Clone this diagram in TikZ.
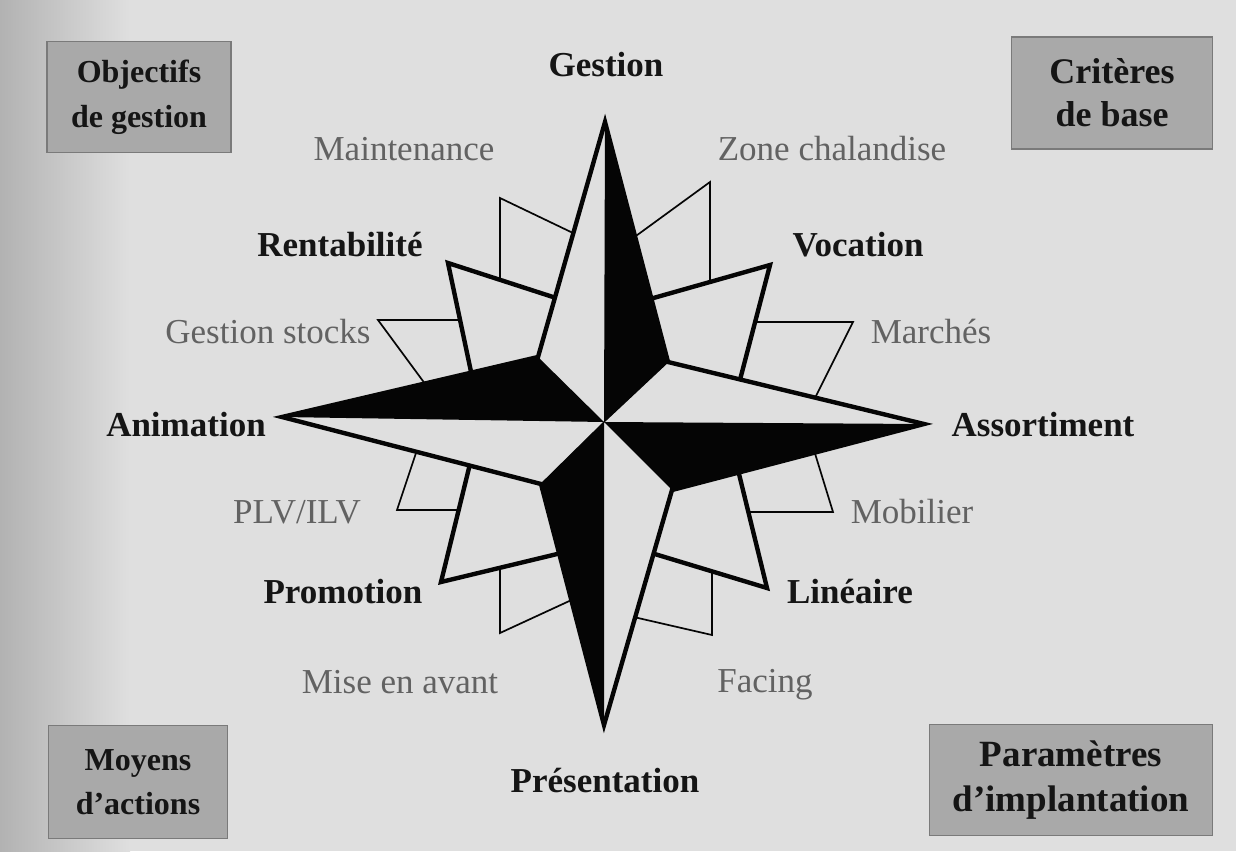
\documentclass[tikz,border=0pt]{standalone}
\usepackage{fontspec}
\setmainfont{Liberation Serif}
\usetikzlibrary{calc}
\definecolor{bg}{HTML}{DFDFDF}
\definecolor{shadeL}{HTML}{B2B2B2}
\definecolor{boxfill}{HTML}{A9A9A9}
\definecolor{boxline}{HTML}{7A7A7A}
\definecolor{darklabel}{HTML}{151515}
\definecolor{lightlabel}{HTML}{626262}
\definecolor{ink}{HTML}{050505}
\begin{document}
\begin{tikzpicture}[x=1pt,y=-1pt,
  boldlabel/.style={font=\fontsize{35}{42}\selectfont\bfseries, text=darklabel, inner sep=0pt, anchor=base},
  lightlabel/.style={font=\fontsize{35}{42}\selectfont, text=lightlabel, inner sep=0pt, anchor=base},
  catbox/.style={draw=boxline, fill=boxfill, line width=1.6pt, align=center, inner sep=0pt, text=darklabel},
  thickstroke/.style={draw=ink, line width=4.4pt, line join=miter, miter limit=12},
  thinstroke/.style={draw=ink, line width=1.7pt, line join=miter, miter limit=12},
  blackhalf/.style={fill=ink, draw=none},
]
\useasboundingbox (0,0) rectangle (1236,851);
% background
\fill[bg] (0,0) rectangle (1236,851);
\shade[left color=shadeL, right color=bg, draw=none] (0,0) rectangle (130,851);

% ---------------- main star geometry ----------------
\coordinate (C) at (604,422);
\coordinate (Nt) at (605,122);
\coordinate (Et) at (924,424);
\coordinate (St) at (604,725);
\coordinate (Wt) at (282,417);
\coordinate (NEc) at (668,362);
\coordinate (NWc) at (538,357);
\coordinate (SEc) at (672,490);
\coordinate (SWc) at (541,484);

% diagonal points: tip, crossing on one main arm, crossing on the other
\coordinate (NWt) at (448,263); \coordinate (NWp) at (553,297); \coordinate (NWq) at (470,367);
\coordinate (NEt) at (770,265); \coordinate (NEp) at (657,297); \coordinate (NEq) at (741,376);
\coordinate (SEt) at (767,588); \coordinate (SEp) at (740,478); \coordinate (SEq) at (658,555);
\coordinate (SWt) at (441,582); \coordinate (SWp) at (468,472); \coordinate (SWq) at (553,555);

% ---------------- tertiary points (thin) ----------------
\foreach \tx/\ty/\ax/\ay/\bx/\by in {
  500/198/500/273/573/233,
  710/182/710/277/640/233,
  853/322/757/322/818/392,
  833/512/747/512/817/460,
  712/635/712/575/638/618,
  500/633/500/573/565/603,
  397/510/457/510/413/462,
  378/320/455/320/420/377}{
  \filldraw[thinstroke, fill=bg] (\tx,\ty) -- ($(\tx,\ty)!1.3!(\ax,\ay)$) -- (C) -- ($(\tx,\ty)!1.3!(\bx,\by)$) -- cycle;
}

% ---------------- diagonal points (thick) ----------------
\foreach \d in {NW,NE,SE,SW}{
  \filldraw[thickstroke, fill=bg] (\d t) -- ($(\d t)!1.3!(\d p)$) -- (C) -- ($(\d t)!1.3!(\d q)$) -- cycle;
}

% ---------------- main star ----------------
\fill[bg] (Nt) -- (NEc) -- (Et) -- (SEc) -- (St) -- (SWc) -- (Wt) -- (NWc) -- cycle;
\fill[blackhalf] (C) -- (Nt) -- (NEc) -- cycle;
\fill[blackhalf] (C) -- (Et) -- (SEc) -- cycle;
\fill[blackhalf] (C) -- (St) -- (SWc) -- cycle;
\fill[blackhalf] (C) -- (Wt) -- (NWc) -- cycle;
\draw[thickstroke] (Nt) -- (NEc) -- (Et) -- (SEc) -- (St) -- (SWc) -- (Wt) -- (NWc) -- cycle;
\draw[draw=ink, line width=1.2pt] (C) -- (NEc) (C) -- (SWc);

% ---------------- labels ----------------
\node[boldlabel] (gestion) at (606,76) {Gestion};
\node[boldlabel] (presentation) at (605,792) {Présentation};
\node[boldlabel] (animation) at (186,436) {Animation};
\node[boldlabel] (assortiment) at (1043,436) {Assortiment};
\node[boldlabel] (rentabilite) at (340,256) {Rentabilité};
\node[boldlabel] (vocation) at (858,256) {Vocation};
\node[boldlabel] (promotion) at (343,603) {Promotion};
\node[boldlabel] (lineaire) at (850,603) {Linéaire};

\node[lightlabel] (maintenance) at (404,160) {Maintenance};
\node[lightlabel] (zone) at (832,160) {Zone chalandise};
\node[lightlabel] (stocks) at (268,343) {Gestion stocks};
\node[lightlabel] (marches) at (931,343) {Marchés};
\node[lightlabel] (plv) at (297,523) {PLV/ILV};
\node[lightlabel] (mobilier) at (912,523) {Mobilier};
\node[lightlabel] (miseenavant) at (400,693) {Mise en avant};
\node[lightlabel] (facing) at (765,692) {Facing};

% ---------------- corner boxes ----------------
\node[catbox, minimum width=184pt, minimum height=111pt,
      font=\fontsize{32}{45}\selectfont\bfseries] (objectifs) at (139,97) {Objectifs\\de gestion};
\node[catbox, minimum width=201pt, minimum height=112pt,
      font=\fontsize{36}{43}\selectfont\bfseries] (criteres) at (1112,93) {Critères\\de base};
\node[catbox, minimum width=179pt, minimum height=113pt,
      font=\fontsize{32}{44}\selectfont\bfseries] (moyens) at (138,782) {Moyens\\d’actions};
\node[catbox, minimum width=283pt, minimum height=111pt,
      font=\fontsize{37}{45}\selectfont\bfseries] (parametres) at (1071,780) {Paramètres\\d’implantation};
\end{tikzpicture}
\end{document}
